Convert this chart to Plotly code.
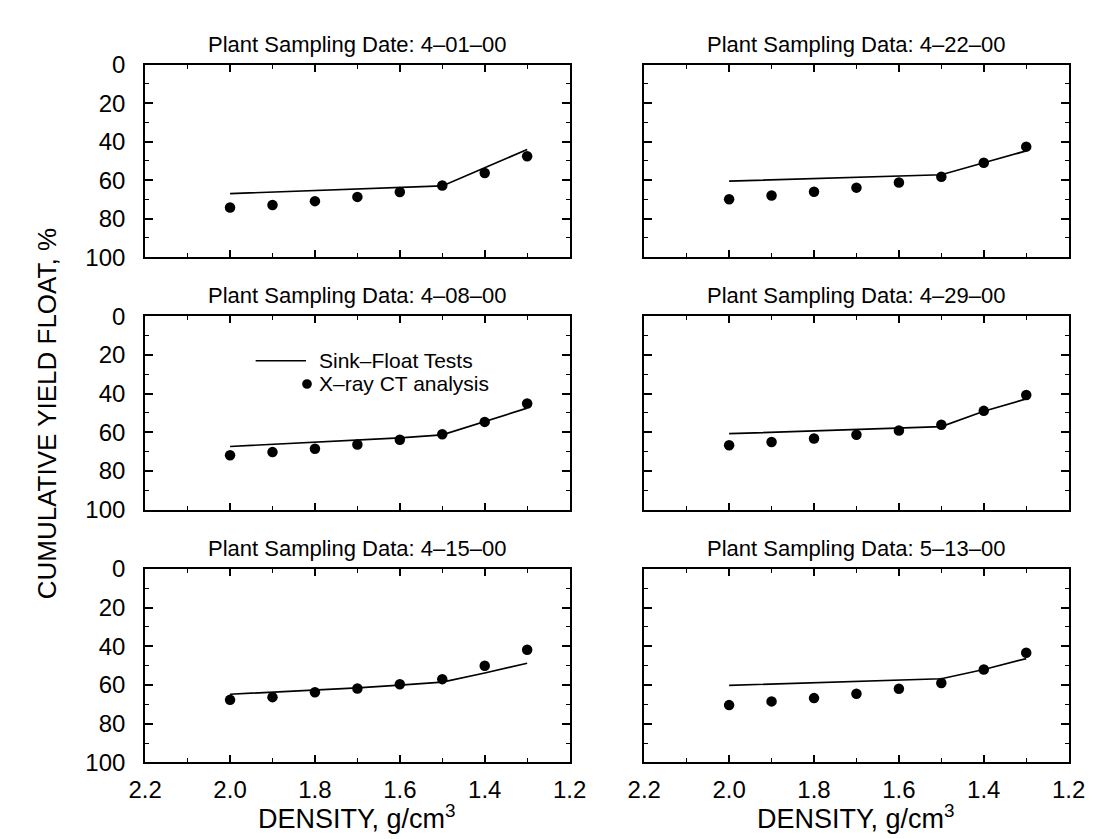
import plotly.graph_objects as go
from plotly.subplots import make_subplots

W, H = 1099, 839

density = [2.0, 1.9, 1.8, 1.7, 1.6, 1.5, 1.4, 1.3]

titles = [
    "Plant Sampling Date: 4–01–00",
    "Plant Sampling Data: 4–22–00",
    "Plant Sampling Data: 4–08–00",
    "Plant Sampling Data: 4–29–00",
    "Plant Sampling Data: 4–15–00",
    "Plant Sampling Data: 5–13–00",
]

sink_float_0401 = [67.0, 66.2, 65.4, 64.6, 64.0, 63.0, 53.6, 44.1]
xray_ct_0401 = [74.2, 72.9, 70.9, 68.7, 66.2, 62.8, 56.3, 47.6]

sink_float_0422 = [60.5, 59.9, 59.2, 58.5, 57.9, 57.2, 51.0, 44.8]
xray_ct_0422 = [69.9, 68.0, 66.0, 63.9, 61.2, 58.2, 51.0, 42.6]

sink_float_0408 = [67.3, 66.2, 65.0, 63.9, 62.8, 61.3, 54.5, 47.5]
xray_ct_0408 = [71.8, 70.2, 68.5, 66.3, 63.8, 61.0, 54.6, 45.1]

sink_float_0429 = [60.7, 60.0, 59.3, 58.5, 57.8, 57.0, 49.1, 42.7]
xray_ct_0429 = [66.7, 65.0, 63.2, 61.2, 59.0, 56.1, 48.9, 40.7]

sink_float_0415 = [64.8, 63.8, 62.6, 61.5, 60.1, 58.5, 53.8, 48.8]
xray_ct_0415 = [67.7, 66.3, 63.8, 61.8, 59.6, 57.0, 50.1, 41.8]

sink_float_0513 = [60.2, 59.5, 58.8, 58.0, 57.4, 56.8, 52.0, 46.4]
xray_ct_0513 = [70.4, 68.5, 66.8, 64.5, 62.0, 59.0, 52.0, 43.4]

x_ticks = [2.2, 2.0, 1.8, 1.6, 1.4, 1.2]
y_ticks = [0, 20, 40, 60, 80, 100]

panels = [
    (1, 1, sink_float_0401, xray_ct_0401),
    (1, 2, sink_float_0422, xray_ct_0422),
    (2, 1, sink_float_0408, xray_ct_0408),
    (2, 2, sink_float_0429, xray_ct_0429),
    (3, 1, sink_float_0415, xray_ct_0415),
    (3, 2, sink_float_0513, xray_ct_0513),
]

FONT = "Liberation Sans, Arial, Helvetica, sans-serif"

def px_x(p):
    return p / W

def px_y(p):
    return 1 - p / H

col_px = {1: (124, 562), 2: (639, 1077)}
row_px = {1: (44, 243), 2: (304, 504), 3: (565, 765)}

fig = make_subplots(rows=3, cols=2)

for r, c, line_vals, dot_vals in panels:
    fig.add_trace(go.Scatter(x=density, y=line_vals, mode="lines",
                             line=dict(color="black", width=1.7),
                             showlegend=False), row=r, col=c)
    fig.add_trace(go.Scatter(x=density, y=dot_vals, mode="markers",
                             marker=dict(color="black", size=10.5),
                             showlegend=False), row=r, col=c)
    x0, x1 = col_px[c]
    y0, y1 = row_px[r]
    fig.update_xaxes(domain=[px_x(x0), px_x(x1)], range=[2.2, 1.2],
                     tickvals=x_ticks, tickformat=".1f",
                     showticklabels=(r == 3),
                     ticks="inside", ticklen=7, tickwidth=1.5, tickcolor="black",
                     minor=dict(dtick=0.1, tick0=0, ticks="inside", ticklen=4,
                                tickwidth=1.2, tickcolor="black"),
                     showline=True, linecolor="black", linewidth=2,
                     mirror="allticks", showgrid=False, zeroline=False,
                     tickfont=dict(family=FONT, size=24, color="black"),
                     ticklabelstandoff=5,
                     row=r, col=c)
    fig.update_yaxes(domain=[px_y(y1), px_y(y0)], range=[100, 0],
                     tickvals=y_ticks,
                     showticklabels=(c == 1),
                     ticks="inside", ticklen=8, tickwidth=1.5, tickcolor="black",
                     minor=dict(dtick=10, tick0=0, ticks="inside", ticklen=4,
                                tickwidth=1.2, tickcolor="black"),
                     showline=True, linecolor="black", linewidth=2,
                     mirror="allticks", showgrid=False, zeroline=False,
                     tickfont=dict(family=FONT, size=24, color="black"),
                     ticklabelstandoff=13,
                     row=r, col=c)

annotations = []
for i, (r, c, _, _) in enumerate(panels):
    x0, x1 = col_px[c]
    y0, _ = row_px[r]
    annotations.append(dict(text=titles[i], xref="paper", yref="paper",
                            x=px_x((x0 + x1) / 2), y=px_y(y0 - 21),
                            xanchor="center", yanchor="middle", showarrow=False,
                            font=dict(family=FONT, size=22, color="black")))

for c in (1, 2):
    x0, x1 = col_px[c]
    annotations.append(dict(text="DENSITY, g/cm<sup>3</sup>", xref="paper", yref="paper",
                            x=px_x((x0 + x1) / 2), y=px_y(821),
                            xanchor="center", yanchor="middle", showarrow=False,
                            font=dict(family=FONT, size=27, color="black")))

annotations.append(dict(text="CUMULATIVE YIELD FLOAT, %", xref="paper", yref="paper",
                        x=px_x(23), y=px_y(405), textangle=-90,
                        xanchor="center", yanchor="middle", showarrow=False,
                        font=dict(family=FONT, size=26, color="black")))

# legend (in middle-left panel)
legend_labels = ["Sink–Float Tests", "X–ray CT analysis"]
annotations.append(dict(text=legend_labels[0], xref="paper", yref="paper",
                        x=px_x(301), y=px_y(350), xanchor="left", yanchor="middle",
                        showarrow=False, font=dict(family=FONT, size=21, color="black")))
annotations.append(dict(text=legend_labels[1], xref="paper", yref="paper",
                        x=px_x(301), y=px_y(374), xanchor="left", yanchor="middle",
                        showarrow=False, font=dict(family=FONT, size=21, color="black")))

shapes = [
    dict(type="line", xref="paper", yref="paper",
         x0=px_x(238), x1=px_x(290), y0=px_y(350), y1=px_y(350),
         line=dict(color="black", width=1.7)),
    dict(type="circle", xref="paper", yref="paper",
         x0=px_x(286), x1=px_x(296), y0=px_y(379), y1=px_y(369),
         fillcolor="black", line=dict(color="black", width=0)),
]

fig.update_layout(width=W, height=H, margin=dict(l=0, r=0, t=0, b=0),
                  paper_bgcolor="white", plot_bgcolor="white",
                  showlegend=False, annotations=annotations, shapes=shapes,
                  font=dict(family=FONT, color="black"))

fig.write_html("out.html")
